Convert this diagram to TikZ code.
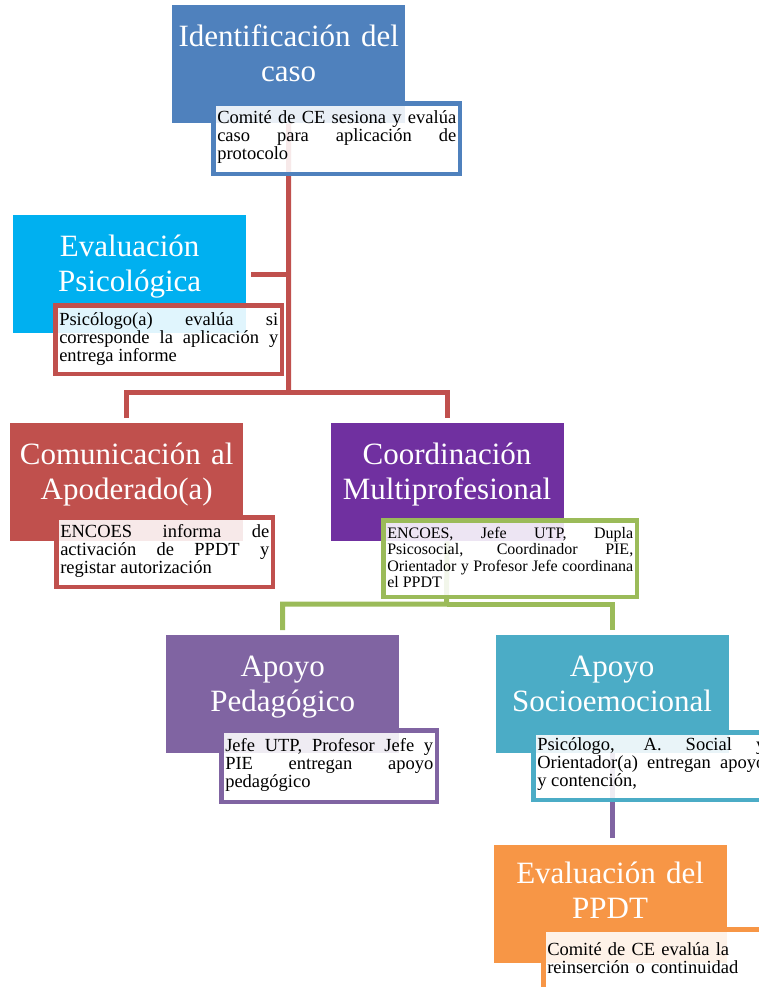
\documentclass[tikz,border=0pt]{standalone}
\usepackage{fontspec}
\setmainfont{Liberation Serif}
\usetikzlibrary{positioning}

\definecolor{identblue}{HTML}{4F81BD}
\definecolor{psicblue}{HTML}{00B0F0}
\definecolor{redbox}{HTML}{C0504D}
\definecolor{coordpurple}{HTML}{7030A0}
\definecolor{pedagpurple}{HTML}{8064A2}
\definecolor{sociocyan}{HTML}{4BACC6}
\definecolor{ppdtorange}{HTML}{F79646}
\definecolor{linegreen}{HTML}{9BBB59}

\begin{document}
\begin{tikzpicture}[x=1pt,y=-1pt,line join=miter]
  \tikzstyle{titlebox}=[anchor=north west,inner sep=0pt,text width=233pt,align=center,text=white,text height=41pt,text depth=77pt,font=\fontsize{31}{35}\selectfont]
  \tikzstyle{descbox}=[anchor=north west,line width=4.5pt,fill=white,fill opacity=0.88,text opacity=1,inner xsep=3.75pt,inner ysep=0pt,text height=19.75pt,align=justify,text=black,font=\fontsize{18.5}{18}\selectfont]
  \tikzstyle{link}=[line width=5pt]

  \useasboundingbox (0,0) rectangle (759,987);
  \clip (0,0) rectangle (759,987);

  \node[titlebox,fill=identblue] (ident) at (172,5) {Identificación del\\caso};
  \node[titlebox,fill=psicblue]  (psic)  at (13,215) {Evaluación\\Psicológica};
  \node[titlebox,fill=redbox]    (com)   at (10,423) {Comunicación al\\Apoderado(a)};
  \node[titlebox,fill=coordpurple,anchor=west] (coord) [right=87pt of com] {Coordinación\\Multiprofesional};
  \node[titlebox,fill=pedagpurple] (pedag) at (166,635) {Apoyo\\Pedagógico};
  \node[titlebox,fill=sociocyan,anchor=west] (socio) [right=96pt of pedag] {Apoyo\\Socioemocional};
  \node[titlebox,fill=ppdtorange,anchor=north,text height=39pt,text depth=79pt,xshift=-2pt] (ppdt) [below=91pt of socio] {Evaluación del\\PPDT};

  \coordinate (fork1) at (288.5,392);
  \coordinate (fork2) at (446.5,604);

  \draw[link,redbox] (ident.south) -- (fork1);
  \draw[link,redbox,shorten >=5pt] (ident.south |- psic.east) -- (psic.east);
  \draw[link,redbox,shorten <=5pt,shorten >=5pt] (com.north) |- (fork1) -| (coord.north);
  \draw[link,linegreen,shorten >=5pt] (coord.south) -- (fork2) -| (pedag.north);
  \draw[link,linegreen,shorten >=5pt] (fork2) -| (socio.north);
  \draw[link,pedagpurple,shorten >=6pt] (socio.south) -- (socio.south |- ppdt.north);

  \node[descbox,draw=identblue,text width=239pt,text depth=50.75pt] (identD) at (211.25,101.25)
    {Comité de CE sesiona y evalúa\linebreak caso para aplicación de\linebreak protocolo};
  \node[descbox,draw=redbox,text width=219pt,text depth=48.75pt] (psicD) at (53.25,303.25)
    {Psicólogo(a) evalúa si\linebreak corresponde la aplicación y\linebreak entrega informe};
  \node[descbox,draw=redbox,text width=209pt,text depth=49.75pt] (comD) at (54.25,515.25)
    {ENCOES informa de\linebreak activación de PPDT y\linebreak registar autorización};
  \node[descbox,draw=linegreen,text width=246pt,text height=17.75pt,text depth=58.75pt,font=\fontsize{16}{16.5}\selectfont] (coordD) at (381.25,518.25)
    {ENCOES, Jefe UTP, Dupla\linebreak Psicosocial, Coordinador PIE,\linebreak Orientador y Profesor Jefe coordinana\linebreak el PPDT};
  \node[descbox,draw=pedagpurple,text width=208pt,text height=20.75pt,text depth=50.75pt] (pedagD) at (219.25,728.25)
    {Jefe UTP, Profesor Jefe y\linebreak PIE entregan apoyo\linebreak pedagógico};
  \node[descbox,draw=sociocyan,text width=228pt,text height=17.75pt,text depth=49.75pt] (socioD) at (531.25,730.25)
    {Psicólogo, A. Social y\linebreak Orientador(a) entregan apoyo\linebreak y contención,};
  \node[descbox,draw=ppdtorange,align=left,text width=211pt,text height=25.75pt,text depth=34.5pt,font=\fontsize{18.5}{18.7}\selectfont] (ppdtD) at (541.25,927.25)
    {Comité de CE evalúa la\\reinserción o continuidad};
\end{tikzpicture}
\end{document}
